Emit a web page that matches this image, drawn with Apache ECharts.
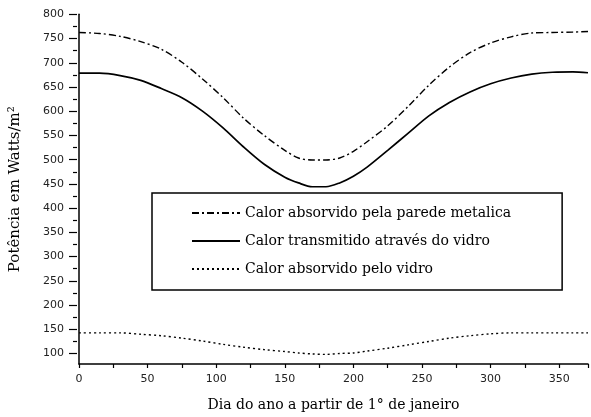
<!DOCTYPE html>
<html>
<head>
<meta charset="utf-8">
<script src="https://cdn.jsdelivr.net/npm/echarts@6/dist/echarts.min.js"></script>
<style>
  html, body { margin: 0; padding: 0; background: #fff; }
  #chart { width: 591px; height: 417px; }
</style>
</head>
<body>
<div id="chart"></div>
<script>
// Day of the year (from 1 January)
const days = [0, 15, 30, 45, 60, 75, 90, 105, 120, 135, 150, 160, 170, 180, 190, 200, 210, 225, 240, 255, 270, 285, 300, 315, 330, 345, 360, 371];

// Power in W/m²
const paredeMetalica = [762, 760, 754, 743, 727, 700, 665, 626, 583, 547, 516, 500, 496, 496, 500, 514, 534, 567, 608, 652, 690, 720, 740, 753, 761, 762, 763, 764];
const transmitidoVidro = [677, 677, 672, 662, 645, 626, 598, 563, 523, 487, 460, 448, 440, 440, 448, 462, 481, 516, 552, 588, 616, 638, 655, 667, 675, 679, 680, 678];
const absorvidoVidro = [135, 135, 135, 132, 129, 124, 118, 111, 105, 100, 96, 93, 91, 90, 92, 93, 97, 103, 110, 117, 124, 129, 133, 135, 135, 135, 135, 135];

const seriesNames = [
  'Calor absorvido pela parede metalica',
  'Calor transmitido através do vidro',
  'Calor absorvido pelo vidro'
];

const yTitle = 'Potência em Watts/m²';
const xTitle = 'Dia do ano a partir de 1° de janeiro';

const pair = (vals) => days.map((d, i) => [d, vals[i]]);

const tickFont = { fontFamily: 'DejaVu Sans', fontSize: 11, color: '#222' };
const serifFont = 'DejaVu Serif';

const chart = echarts.init(document.getElementById('chart'), null, { renderer: 'canvas' });

chart.setOption({
  animation: false,
  backgroundColor: '#fff',
  grid: [
    { left: 77, right: 1, top: 14.3, bottom: 49 },
    // second grid only carries the labelled y ticks (100 … 800)
    { left: 77, right: 1, top: 14.3, bottom: 63.5 }
  ],
  xAxis: [
    {
      gridIndex: 0,
      type: 'value',
      min: 0,
      max: 371,
      interval: 25,
      name: xTitle,
      nameLocation: 'middle',
      nameGap: 34,
      nameTextStyle: { fontFamily: serifFont, fontSize: 14, color: '#000' },
      axisLine: { show: true, lineStyle: { color: '#000', width: 1.5 } },
      axisTick: { show: true, length: 4, lineStyle: { color: '#000', width: 1.2 } },
      axisLabel: {
        ...tickFont,
        margin: 10,
        formatter: (v) => (v % 50 === 0 ? String(v) : '')
      },
      splitLine: { show: false }
    },
    {
      gridIndex: 1,
      type: 'value',
      min: 0,
      max: 371,
      show: false
    }
  ],
  yAxis: [
    {
      gridIndex: 0,
      type: 'value',
      min: 70,
      max: 800,
      name: yTitle,
      nameLocation: 'middle',
      nameGap: 56,
      nameTextStyle: { fontFamily: serifFont, fontSize: 15, color: '#000' },
      axisLine: { show: true, lineStyle: { color: '#000', width: 1.5 } },
      axisTick: { show: false },
      axisLabel: { show: false },
      splitLine: { show: false }
    },
    {
      gridIndex: 1,
      type: 'value',
      min: 100,
      max: 800,
      interval: 50,
      axisLine: { show: false },
      axisTick: { show: true, length: 8, lineStyle: { color: '#000', width: 1.2 } },
      minorTick: { show: true, splitNumber: 2, length: 4, lineStyle: { color: '#000', width: 1.2 } },
      axisLabel: { ...tickFont, margin: 13 },
      splitLine: { show: false }
    }
  ],
  legend: {
    orient: 'vertical',
    left: 152,
    top: 193,
    padding: [13, 51, 14, 39],
    itemWidth: 48,
    itemHeight: 14,
    itemGap: 14,
    backgroundColor: '#fff',
    borderColor: '#000',
    borderWidth: 1.5,
    borderRadius: 0,
    itemStyle: { opacity: 0 },
    textStyle: { fontFamily: serifFont, fontSize: 14, color: '#000' },
    data: seriesNames
  },
  series: [
    {
      name: seriesNames[0],
      type: 'line',
      xAxisIndex: 0,
      yAxisIndex: 0,
      data: pair(paredeMetalica),
      smooth: 0.3,
      symbol: 'none',
      color: '#000',
      lineStyle: { color: '#000', width: 1.4, type: [7, 3, 2, 3] }
    },
    {
      name: seriesNames[1],
      type: 'line',
      xAxisIndex: 0,
      yAxisIndex: 0,
      data: pair(transmitidoVidro),
      smooth: 0.3,
      symbol: 'none',
      color: '#000',
      lineStyle: { color: '#000', width: 1.7, type: 'solid' }
    },
    {
      name: seriesNames[2],
      type: 'line',
      xAxisIndex: 0,
      yAxisIndex: 0,
      data: pair(absorvidoVidro),
      smooth: 0.3,
      symbol: 'none',
      color: '#000',
      lineStyle: { color: '#000', width: 1.4, type: [2, 3] }
    }
  ]
});
</script>
</body>
</html>
